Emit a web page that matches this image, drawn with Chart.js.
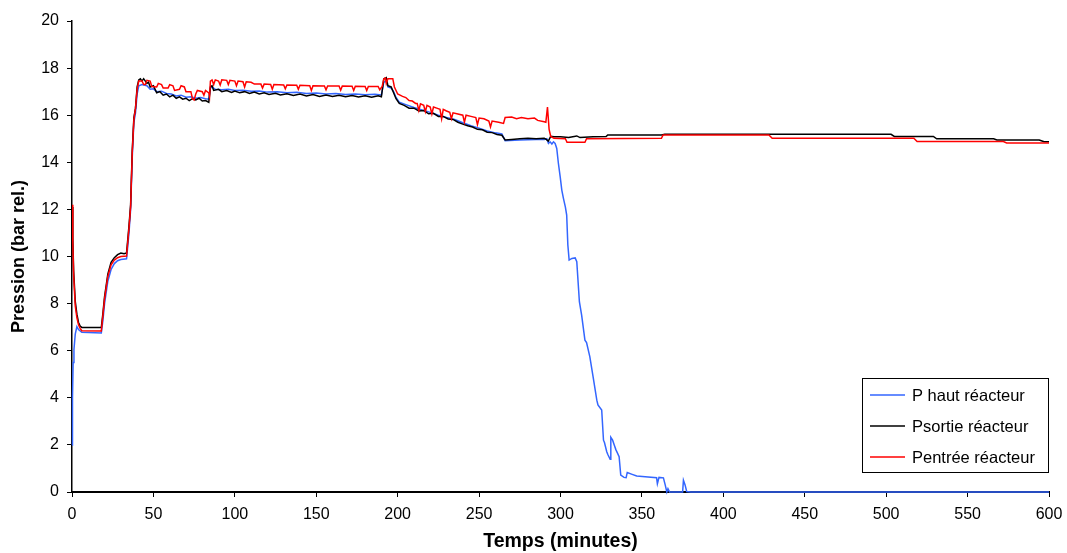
<!DOCTYPE html>
<html>
<head>
<meta charset="utf-8">
<script src="https://cdn.jsdelivr.net/npm/chart.js@4/dist/chart.umd.min.js"></script>
<style>
    html, body { margin: 0; padding: 0; background: #fff; }
    #wrap { width: 1067px; height: 553px; position: relative; }
</style>
</head>
<body>
<div id="wrap"><canvas id="pressureChart" width="1067" height="553"></canvas></div>
<script>
// Series labels
const seriesLabels = ['P haut réacteur', 'Psortie réacteur', 'Pentrée réacteur'];

// P haut réacteur (time in minutes, pressure in bar rel.)
const tHaut = [0, 0.3, 0.7, 1.2, 2, 3, 4, 6, 18, 19, 20, 22, 24, 26, 28, 30, 33.5, 35, 36, 37, 38, 39, 40, 41,
    43, 46, 48, 50, 52, 55, 58, 61, 64, 67, 70, 73, 76, 79, 82, 84, 85, 86, 88, 92, 96, 100, 105, 110, 115, 120,
    126, 132, 138, 144, 150, 156, 162, 168, 174, 180, 186, 190, 191.5, 193, 194, 196, 197.5, 199, 201, 205, 210,
    215, 220, 225, 230, 235, 240, 245, 250, 255, 260, 264, 266, 275, 285, 290, 291.6, 292.6, 293.6, 294.7, 295.7,
    296.7, 297.7, 298.7, 299.8, 300.8, 301.8, 303, 303.8, 304.5, 305.3, 307, 309, 310, 311.6, 313, 315, 316, 318,
    320, 322.3, 323, 325.3, 326.4, 327, 328.4, 329, 330.5, 330.9, 332, 333, 334, 336, 337, 339, 340.3, 341, 344,
    346.8, 352, 359, 359.5, 360.5, 363.2, 364.3, 365.3, 366, 367, 375, 375.5, 376.5, 377.5, 380, 600];
const pHaut = [2.0, 4.0, 5.5, 6.05, 6.7, 7.02, 6.9, 6.78, 6.75, 7.3, 8.0, 8.95, 9.45, 9.7, 9.82, 9.87, 9.9, 11.0, 12.0, 14.2, 15.7, 16.1, 16.9, 17.25,
    17.3, 17.25, 17.1, 17.12, 17.0, 17.02, 16.92, 16.9, 16.82, 16.85, 16.76, 16.78, 16.72, 16.75, 16.7, 16.68, 17.15, 17.2, 17.1, 17.08, 17.1, 17.05, 17.06, 17.02, 17.03, 16.98,
    17.0, 16.95, 16.97, 16.92, 16.94, 16.9, 16.92, 16.88, 16.9, 16.87, 16.89, 16.86, 17.4, 17.45, 17.2, 17.15, 17.0, 16.75, 16.55, 16.45, 16.33,
    16.22, 16.12, 16.0, 15.9, 15.82, 15.68, 15.55, 15.45, 15.33, 15.25, 15.2, 14.92, 14.95, 14.97, 14.97, 15.0, 14.8, 14.87, 14.78, 14.87,
    14.8, 14.59, 13.96, 13.39, 12.82, 12.47, 12.1, 11.76, 10.5, 9.85, 9.92, 9.94, 9.78, 8.08, 7.5, 6.45, 6.35, 5.75,
    4.9, 3.9, 3.7, 3.48, 2.2, 2.1, 1.71, 1.6, 1.39, 2.32, 2.2, 2.0, 1.8, 1.5, 0.72, 0.62, 0.61, 0.83, 0.75,
    0.68, 0.65, 0.61, 0.35, 0.62, 0.6, 0.3, 0.0, 0.14, 0.0, 0.0, 0.5, 0.3, 0.02, 0.0, 0.0];

// Psortie réacteur
const tSortie = [0, 0.5, 1, 2, 3, 4, 5, 6, 10, 18, 19, 20, 22, 24, 26, 28, 30, 32, 33.5, 35, 36, 37, 38, 38.5, 39,
    40, 41, 42, 43, 44, 46, 47, 48, 50, 52, 54, 56, 58, 60, 62, 64, 66, 68, 70, 72, 74, 76, 78, 80, 82, 84, 85, 86,
    87, 90, 92, 95, 98, 100, 103, 106, 109, 112, 115, 118, 121, 125, 128, 132, 136, 140, 144, 148, 152, 156, 160,
    164, 168, 172, 176, 180, 184, 188, 190, 191.5, 193, 194, 196, 197.5, 199, 201, 204, 207, 210, 213, 216, 219,
    222, 225, 228, 231, 234, 237, 240, 243, 246, 249, 252, 255, 258, 261, 264, 266, 270, 275, 280, 285, 290, 291,
    292.5, 294, 296, 300, 305, 310, 312, 320, 328, 329, 362, 364, 503, 505, 529, 531, 566, 568, 594, 597, 600];
const pSortie = [12.1, 10.8, 9.4, 8.1, 7.55, 7.2, 7.05, 6.99, 6.98, 6.98, 7.6, 8.3, 9.25, 9.75, 9.95, 10.08, 10.15, 10.12, 10.15, 11.3, 12.2, 14.5, 15.9, 16.1, 16.3,
    17.2, 17.5, 17.55, 17.45, 17.55, 17.35, 17.4, 17.2, 17.25, 16.95, 17.0, 16.85, 16.9, 16.78, 16.85, 16.72, 16.78, 16.68, 16.72, 16.62, 16.7, 16.65, 16.72, 16.6, 16.62, 16.55, 17.2, 17.25,
    17.05, 17.1, 17.0, 17.05, 16.97, 17.03, 16.95, 17.0, 16.92, 16.98, 16.9, 16.95, 16.88, 16.93, 16.86, 16.91, 16.84, 16.9, 16.82, 16.88, 16.8, 16.86, 16.79,
    16.85, 16.78, 16.84, 16.77, 16.83, 16.76, 16.82, 16.78, 17.55, 17.6, 17.25, 17.2, 16.95, 16.7, 16.5, 16.42, 16.3, 16.3, 16.18, 16.2, 16.06,
    16.08, 15.95, 15.95, 15.84, 15.82, 15.7, 15.62, 15.55, 15.5, 15.4, 15.38, 15.28, 15.26, 15.18, 15.15, 14.95, 14.97, 15.0, 15.02, 15.0, 15.02, 14.98,
    14.9, 15.1, 15.08, 15.08, 15.05, 15.12, 15.05, 15.08, 15.09, 15.16, 15.16, 15.19, 15.19, 15.1, 15.1, 15.0, 15.0, 14.95, 14.95, 14.87, 14.87];

// Pentrée réacteur
const tEntree = [0, 0.5, 1, 2, 3, 4, 5, 6, 18, 19, 20, 22, 24, 26, 28, 30, 33.5, 35, 36, 37, 38, 39, 40, 41, 43, 44,
    45, 46, 48, 49, 52, 53, 55, 56, 59, 60, 62, 63, 66, 67, 69, 70, 73, 74, 75, 76, 77, 80, 81, 82, 84, 84.5, 85, 86,
    87, 88, 90, 91, 92, 95, 96, 97, 100, 101, 102, 105, 106, 107, 110, 112, 116, 117, 118, 122, 123, 124, 130, 131,
    132, 138, 139, 140, 146, 147, 148, 155, 156, 157, 164, 165, 166, 172, 173, 174, 180, 181, 182, 188, 189, 190.5,
    191.5, 192.5, 193, 194, 197, 198, 200, 203, 205, 207, 209, 211, 212, 213, 214, 216, 217, 218, 220, 221, 222, 224,
    226, 227, 228, 230, 232, 233, 234, 237, 240, 241, 242, 245, 248, 249, 250, 253, 256, 257, 258, 262, 265, 266, 270,
    273, 276, 280, 284, 286, 290, 291, 292, 293, 294, 296, 303, 304, 315, 316, 362, 363, 428, 430, 517, 519, 572, 574, 600];
const pEntree = [12.2, 10.6, 9.2, 7.9, 7.4, 7.1, 6.95, 6.85, 6.84, 7.5, 8.2, 9.15, 9.65, 9.85, 9.95, 10.0, 10.02, 11.2, 12.1, 14.4, 15.8, 16.3, 17.1, 17.45, 17.45, 17.3,
    17.3, 17.48, 17.45, 17.22, 17.2, 17.35, 17.3, 17.15, 17.15, 17.3, 17.25, 17.05, 17.1, 17.25, 17.2, 17.0, 17.0, 16.7, 16.65, 16.9, 17.05, 17.0, 16.85, 17.05, 16.95, 16.8, 17.45, 17.5,
    17.3, 17.5, 17.45, 17.28, 17.5, 17.48, 17.3, 17.48, 17.45, 17.25, 17.45, 17.42, 17.2, 17.42, 17.4, 17.32, 17.32, 17.15, 17.32, 17.3, 17.1, 17.3, 17.28, 17.12,
    17.28, 17.27, 17.1, 17.27, 17.25, 17.05, 17.25, 17.24, 17.08, 17.24, 17.24, 17.06, 17.24, 17.23, 17.05, 17.23, 17.22, 17.05, 17.22, 17.22, 17.08, 17.22,
    17.55, 17.58, 17.35, 17.55, 17.55, 17.2, 16.9, 16.8, 16.75, 16.62, 16.6, 16.5, 16.5, 16.2, 16.48, 16.42, 16.15, 16.42, 16.35, 16.05, 16.35, 16.3,
    16.25, 15.85, 16.25, 16.18, 16.12, 15.85, 16.1, 16.05, 16.0, 15.7, 16.0, 15.95, 15.9, 15.6, 15.88, 15.85, 15.75, 15.5, 15.75, 15.7, 15.65, 15.9, 15.92,
    15.85, 15.9, 15.85, 15.88, 15.78, 15.72, 15.7, 16.35, 15.4, 15.1, 15.02, 15.0, 14.85, 14.85, 15.0, 15.02, 15.16, 15.16, 15.02, 15.02, 14.88, 14.88, 14.82, 14.82];

// X / Y tick settings
const xTicksMax = 600;
const xTickStep = 50;
const yTicksMax = 20;
const yTickStep = 2;

function zip(ts, ps) {
    return ts.map(function (t, i) { return { x: t, y: ps[i] }; });
}

const seriesColors = ['#3366ff', '#000000', '#ff0000'];
const fontFamily = '"Liberation Sans", Arial, sans-serif';

// Legend box drawn inside the plot, bottom right
const boxLegend = {
    id: 'boxLegend',
    afterDraw: function (chart) {
        const ctx = chart.ctx;
        const left = 862, top = 378, w = 186, h = 94;
        ctx.save();
        ctx.fillStyle = '#fff';
        ctx.fillRect(left, top, w, h);
        ctx.strokeStyle = '#000';
        ctx.lineWidth = 1;
        ctx.strokeRect(left + 0.5, top + 0.5, w, h);
        ctx.font = '16.5px ' + fontFamily;
        ctx.textBaseline = 'middle';
        seriesLabels.forEach(function (label, i) {
            const y = top + 17 + i * 31;
            ctx.strokeStyle = seriesColors[i];
            ctx.lineWidth = 1.5;
            ctx.beginPath();
            ctx.moveTo(left + 8, y);
            ctx.lineTo(left + 43, y);
            ctx.stroke();
            ctx.fillStyle = '#000';
            ctx.fillText(label, left + 50, y + 1);
        });
        ctx.restore();
    }
};

const ctx = document.getElementById('pressureChart').getContext('2d');
new Chart(ctx, {
    type: 'line',
    data: {
        datasets: [
            {
                label: seriesLabels[0],
                data: zip(tHaut, pHaut),
                borderColor: seriesColors[0],
                borderWidth: 1.5,
                pointRadius: 0,
                clip: false,
                order: 2
            },
            {
                label: seriesLabels[1],
                data: zip(tSortie, pSortie),
                borderColor: seriesColors[1],
                borderWidth: 1.5,
                pointRadius: 0,
                order: 1
            },
            {
                label: seriesLabels[2],
                data: zip(tEntree, pEntree),
                borderColor: seriesColors[2],
                borderWidth: 1.5,
                pointRadius: 0,
                order: 0
            }
        ]
    },
    options: {
        responsive: false,
        animation: false,
        layout: { padding: { top: 21, right: 18, left: 0, bottom: 0 } },
        plugins: {
            legend: { display: false },
            tooltip: { enabled: false }
        },
        scales: {
            x: {
                type: 'linear',
                min: 0,
                max: xTicksMax,
                afterFit: function (scale) {
                    scale.height = 61;
                    scale.paddingLeft = 0;
                    scale.paddingRight = 0;
                },
                border: { color: '#000', width: 2, z: -1 },
                grid: { drawOnChartArea: false, tickLength: 5, tickColor: '#000' },
                ticks: {
                    stepSize: xTickStep,
                    color: '#000',
                    padding: 8,
                    maxRotation: 0,
                    font: { family: fontFamily, size: 16 }
                },
                title: {
                    display: true,
                    text: 'Temps (minutes)',
                    color: '#000',
                    padding: { top: 0, bottom: 0 },
                    font: { family: fontFamily, size: 19.5, weight: 'bold' }
                }
            },
            y: {
                min: 0,
                max: yTicksMax,
                afterFit: function (scale) { scale.width = 72; },
                border: { color: '#000', width: 1.5 },
                grid: { drawOnChartArea: false, tickLength: 5, tickColor: '#000' },
                ticks: {
                    stepSize: yTickStep,
                    color: '#000',
                    padding: 8,
                    font: { family: fontFamily, size: 16 }
                },
                title: {
                    display: true,
                    text: 'Pression (bar rel.)',
                    color: '#000',
                    padding: { top: 8, bottom: 0 },
                    font: { family: fontFamily, size: 18, weight: 'bold' }
                }
            }
        }
    },
    plugins: [boxLegend]
});
</script>
</body>
</html>
